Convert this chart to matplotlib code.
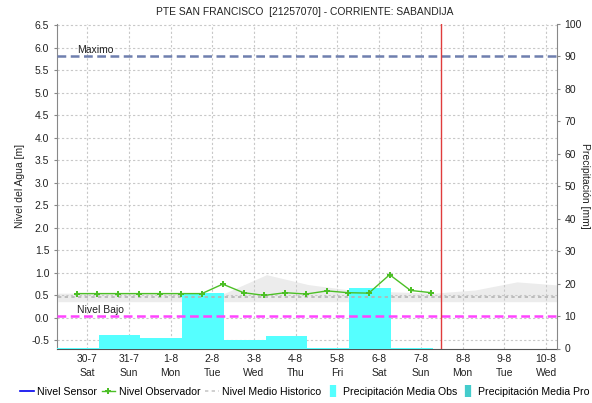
import matplotlib.pyplot as plt
import numpy as np
from matplotlib.lines import Line2D

plt.rcParams['font.family'] = 'Liberation Sans'
plt.rcParams['font.size'] = 7.5

# day index: 0 = 30-7 ... 11 = 10-8
day_labels = ['30-7\nSat', '31-7\nSun', '1-8\nMon', '2-8\nTue', '3-8\nWed', '4-8\nThu',
              '5-8\nFri', '6-8\nSat', '7-8\nSun', '8-8\nMon', '9-8\nTue', '10-8\nWed']

# observer readings, twice a day (m)
obs_t = np.arange(18) * 0.5 - 0.25
obs_nivel = [0.54, 0.54, 0.54, 0.54, 0.54, 0.54, 0.54, 0.75, 0.56,
             0.50, 0.56, 0.53, 0.60, 0.56, 0.55, 0.96, 0.61, 0.56]

# daily precipitation (mm), bars span the day ending at each edge
precip_left = np.arange(9) - 0.72
precip_obs = [0.3, 4.1, 3.3, 17.0, 2.6, 3.9, 0.3, 18.7, 0.3]

# historical mean level and its envelope (m)
hist_t = np.arange(13) - 0.7
hist_upper = [0.55, 0.55, 0.55, 0.55, 0.55, 0.96, 0.74, 0.62, 0.58, 0.55, 0.62, 0.80, 0.73]
hist_lower = [0.36] * 13
hist_medio = [0.46] * 13

nivel_maximo = 5.82
nivel_bajo = 0.045
t_actual = 8.48

xlim = (-0.72, 11.26)
ylim_m = (-0.68, 6.53)

fig = plt.figure(figsize=(5.92, 4.03), dpi=100)
ax = fig.add_axes([57/592, 1-348.5/403, 500/592, 324.5/403])
ax2 = ax.twinx()
ax3 = ax.twinx()
ax2.set_zorder(ax.get_zorder() + 1)
ax3.set_zorder(ax.get_zorder() + 2)
for a in (ax2, ax3):
    a.patch.set_visible(False)
    for s in a.spines.values():
        s.set_visible(False)

# back: grid and historical band
ax.set_xlim(*xlim)
ax.set_ylim(*ylim_m)
ax.set_xticks(np.arange(12))
ax.set_xticklabels(day_labels, color='#222222', linespacing=1.5)
ax.set_yticks(np.arange(-0.5, 6.51, 0.5))
ax.set_yticklabels([f'{v:.1f}' for v in np.arange(-0.5, 6.51, 0.5)], color='#222222')
ax.tick_params(axis='x', length=0, pad=4)
ax.tick_params(axis='y', length=2.5, color='#888888', pad=3)
ax.grid(True, color='#c8c8c8', linestyle=(0, (2, 2)), linewidth=0.8)
ax.spines['top'].set_visible(False)
ax.spines['left'].set_color('#888888')
ax.spines['right'].set_visible(False)
ax.spines['bottom'].set_color('#555555')
ax.spines['bottom'].set_linestyle((0, (1, 1)))
ax.fill_between(hist_t, hist_lower, hist_upper, color='#ececec', lw=0)
ax.set_ylabel('Nivel del Agua [m]', color='#222222', labelpad=5)

# middle: precipitation bars on the right scale
ax2.bar(precip_left, precip_obs, width=1.0, align='edge', color='#55ffff', lw=0)
ax2.set_ylim(0, 100)
ax2.set_yticks(np.arange(0, 101, 10))
ax2.tick_params(axis='y', length=2.5, color='#888888', labelcolor='#222222', pad=3)
ax2.spines['right'].set_visible(True)
ax2.spines['right'].set_color('#888888')
ax2.set_ylabel('Precipitación [mm]', rotation=-90, color='#222222', labelpad=6)

# front: levels
ax3.set_ylim(*ylim_m)
ax3.set_yticks([])
ax3.plot(hist_t, hist_medio, color='#b4b4b4', lw=1.2, dashes=(2, 2))
ax3.axhline(nivel_maximo, color='#6f7fae', lw=1.8, dashes=(3.5, 1.8))
ax3.axhline(nivel_bajo, color='#ff44ff', lw=1.8, dashes=(3.5, 1.8))
ax3.text(-0.23, nivel_maximo + 0.03, 'Maximo', fontsize=7.5, color='#222222', va='bottom')
ax3.text(-0.23, nivel_bajo + 0.02, 'Nivel Bajo', fontsize=7.5, color='#222222', va='bottom')
ax3.axvline(t_actual, color='#e03c3c', lw=1.0)
ax3.plot(obs_t, obs_nivel, color='#4cbf26', lw=1.0, marker='P', ms=4, mew=0)
ax3.set_xlim(*xlim)

fig.text(305/592, 1-12/403, 'PTE SAN FRANCISCO  [21257070] - CORRIENTE: SABANDIJA',
         ha='center', va='center', fontsize=7.4, color='#222222')

handles = [
    Line2D([], [], color='#0000ee', lw=1.2),
    Line2D([], [], color='#4cbf26', lw=1.0, marker='P', ms=4, mew=0),
    Line2D([], [], color='#c8c8c8', lw=1.2, dashes=(2, 2)),
    Line2D([], [], ls='none', marker='|', ms=8, mew=4.5, color='#55ffff'),
    Line2D([], [], ls='none', marker='|', ms=8, mew=4.5, color='#44cccc'),
]
labels = ['Nivel Sensor', 'Nivel Observador', 'Nivel Medio Historico',
          'Precipitación Media Obs', 'Precipitación Media Pro']
fig.legend(handles, labels, loc='center left', bbox_to_anchor=(20/592, 1-392/403),
           ncol=5, frameon=False, fontsize=7.6, handlelength=1.3, handletextpad=0.3,
           columnspacing=0.45, borderaxespad=0, borderpad=0)

fig.savefig('out.png', dpi=100)
